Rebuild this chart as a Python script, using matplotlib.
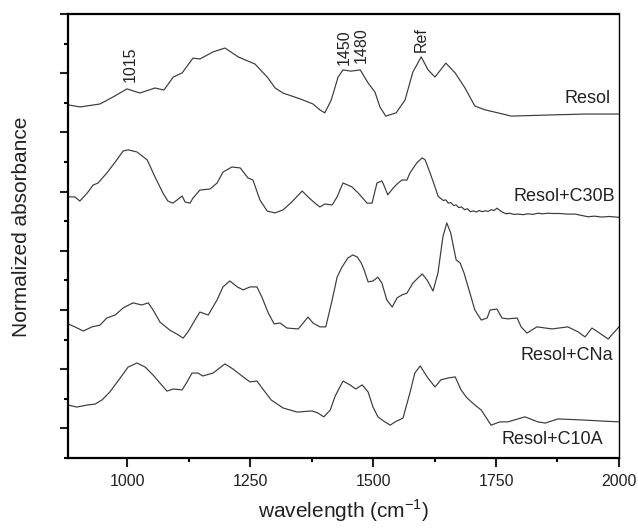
import matplotlib
matplotlib.use("Agg")
import matplotlib.pyplot as plt
from matplotlib.ticker import MultipleLocator

# stacked FTIR spectra (arbitrary units)
wn_resol = [880, 905, 945, 972, 1000, 1026, 1057, 1075, 1094, 1112, 1134, 1148, 1175, 1199,
            1226, 1260, 1285, 1301, 1317, 1352, 1378, 1392, 1402, 1415, 1429, 1439, 1455, 1474,
            1490, 1504, 1514, 1526, 1547, 1565, 1581, 1598, 1612, 1626, 1648, 1667, 1687, 1707,
            1728, 1754, 1781, 1862, 1931, 2000]
abs_resol = [11.93, 11.86, 11.96, 12.20, 12.47, 12.33, 12.50, 12.43, 12.87, 13.01, 13.51, 13.48,
             13.72, 13.85, 13.55, 13.31, 12.87, 12.50, 12.33, 12.13, 11.96, 11.76, 11.66, 12.09,
             12.87, 13.11, 13.07, 13.11, 12.67, 12.36, 11.86, 11.55, 11.66, 12.09, 13.04, 13.55,
             13.11, 12.87, 13.34, 13.01, 12.50, 11.89, 11.76, 11.66, 11.55, 11.59, 11.62, 11.62]

wn_c30b = [880, 894, 904, 919, 931, 941, 959, 976, 992, 1002, 1020, 1041, 1057, 1073, 1083, 1093,
           1102, 1112, 1118, 1128, 1134, 1148, 1169, 1183, 1195, 1213, 1230, 1246, 1256, 1270,
           1285, 1301, 1317, 1335, 1356, 1368, 1382, 1392, 1402, 1417, 1427, 1439, 1457, 1470,
           1488, 1498, 1508, 1518, 1522, 1530, 1541, 1551, 1559, 1569, 1575, 1589, 1600, 1606,
           1616, 1626, 1632, 1638, 1643, 1648, 1653, 1658, 1664, 1669, 1674, 1680, 1686, 1692,
           1698, 1704, 1710, 1716, 1722, 1728, 1734, 1740, 1746, 1752, 1758, 1764, 1770, 1778,
           1786, 1795, 1805, 1815, 1825, 1835, 1845, 1855, 1865, 1880, 1895, 1911, 1925, 1937,
           1950, 1965, 1980, 2000]
abs_c30b = [8.82, 8.82, 8.68, 8.95, 9.22, 9.29, 9.63, 10.00, 10.37, 10.41, 10.34, 10.07, 9.49,
            8.95, 8.68, 8.61, 8.72, 8.85, 8.65, 8.61, 8.78, 9.05, 9.09, 9.29, 9.66, 9.83, 9.80,
            9.46, 9.39, 8.72, 8.34, 8.28, 8.38, 8.65, 9.02, 8.82, 8.61, 8.48, 8.58, 8.55, 8.82,
            9.29, 9.16, 8.95, 8.61, 8.61, 9.29, 9.36, 9.22, 8.89, 9.12, 9.29, 9.39, 9.39, 9.63,
            9.97, 10.14, 10.07, 9.63, 9.16, 8.85, 8.76, 8.70, 8.72, 8.61, 8.63, 8.53, 8.55, 8.46,
            8.48, 8.39, 8.42, 8.32, 8.35, 8.31, 8.36, 8.32, 8.35, 8.33, 8.39, 8.36, 8.44, 8.36,
            8.30, 8.25, 8.27, 8.23, 8.24, 8.22, 8.25, 8.23, 8.27, 8.25, 8.27, 8.26, 8.26, 8.24,
            8.24, 8.19, 8.15, 8.17, 8.14, 8.16, 8.13]

wn_cna = [880, 894, 911, 929, 945, 959, 976, 992, 1012, 1030, 1043, 1053, 1067, 1087, 1104, 1114,
          1124, 1138, 1148, 1165, 1183, 1195, 1209, 1224, 1236, 1250, 1264, 1274, 1287, 1299,
          1311, 1325, 1348, 1358, 1368, 1378, 1392, 1404, 1417, 1427, 1437, 1449, 1459, 1468,
          1476, 1482, 1490, 1500, 1510, 1518, 1528, 1539, 1549, 1559, 1569, 1581, 1600, 1610,
          1622, 1632, 1642, 1650, 1658, 1669, 1677, 1685, 1697, 1707, 1720, 1732, 1738, 1752,
          1762, 1774, 1793, 1801, 1813, 1833, 1864, 1896, 1917, 1931, 1945, 1957, 1978, 2000]
abs_cna = [4.53, 4.43, 4.29, 4.43, 4.49, 4.73, 4.83, 5.07, 5.24, 5.17, 5.24, 5.00, 4.59, 4.32,
           4.16, 4.05, 4.26, 4.66, 4.93, 4.83, 5.34, 5.78, 5.98, 5.78, 5.68, 5.78, 5.78, 5.44,
           4.90, 4.53, 4.56, 4.39, 4.36, 4.56, 4.76, 4.56, 4.43, 4.43, 5.34, 6.11, 6.45, 6.76,
           6.86, 6.79, 6.59, 6.35, 5.95, 5.98, 6.11, 5.91, 5.34, 5.10, 5.41, 5.51, 5.57, 5.91,
           6.22, 6.01, 5.64, 6.25, 7.47, 7.94, 7.60, 6.69, 6.59, 6.25, 5.57, 5.00, 4.66, 4.73,
           5.00, 5.03, 4.73, 4.70, 4.73, 4.43, 4.22, 4.43, 4.36, 4.43, 4.26, 4.09, 4.39, 4.26,
           4.02, 4.43]

wn_c10a = [880, 898, 919, 935, 949, 965, 986, 1002, 1020, 1037, 1053, 1067, 1081, 1094, 1112,
           1122, 1132, 1144, 1154, 1175, 1199, 1215, 1236, 1250, 1264, 1276, 1293, 1317, 1346,
           1376, 1388, 1400, 1413, 1423, 1439, 1453, 1465, 1478, 1490, 1500, 1510, 1524, 1535,
           1545, 1561, 1575, 1585, 1596, 1610, 1626, 1638, 1652, 1667, 1679, 1691, 1707, 1720,
           1740, 1758, 1774, 1809, 1835, 1850, 1876, 1931, 1963, 2000]
abs_c10a = [1.79, 1.72, 1.79, 1.82, 1.96, 2.23, 2.70, 3.07, 3.21, 3.07, 2.80, 2.53, 2.26, 2.33,
            2.30, 2.57, 2.87, 2.87, 2.77, 2.87, 3.18, 3.01, 2.74, 2.57, 2.60, 2.33, 1.96, 1.69,
            1.55, 1.59, 1.52, 1.39, 1.62, 2.09, 2.60, 2.47, 2.33, 2.47, 2.23, 1.72, 1.39, 1.22,
            1.11, 1.22, 1.35, 2.20, 2.87, 3.11, 2.74, 2.40, 2.64, 2.70, 2.74, 2.30, 2.03, 1.79,
            1.62, 1.11, 1.22, 1.22, 1.39, 1.22, 1.18, 1.32, 1.28, 1.25, 1.22]

spectra = [(wn_resol, abs_resol), (wn_c30b, abs_c30b), (wn_cna, abs_cna), (wn_c10a, abs_c10a)]

sample_names = ["Resol", "Resol+C30B", "Resol+CNa", "Resol+C10A"]
name_x = [1982, 1992, 1988, 1967]
name_y = [12.13, 8.82, 3.45, 0.61]

band_labels = ["1015", "1450", "1480", "Ref"]
band_x = [1006, 1441, 1476, 1598]
band_y = [12.70, 13.28, 13.34, 13.72]

plt.rcParams["font.family"] = ["Liberation Sans", "DejaVu Sans"]
plt.rcParams["mathtext.fontset"] = "custom"
plt.rcParams["mathtext.rm"] = "Liberation Sans"

fig = plt.figure(figsize=(6.38, 5.28), dpi=100)
ax = fig.add_axes([0.1066, 0.1326, 0.8636, 0.8409])

for wn, a in spectra:
    ax.plot(wn, a, color="#3a3a3a", lw=0.85)

for name, x, y in zip(sample_names, name_x, name_y):
    ax.text(x, y, name, ha="right", va="center", fontsize=13, color="#222222")

for lab, x, y in zip(band_labels, band_x, band_y):
    ax.text(x, y, lab, rotation=90, ha="center", va="bottom", fontsize=11.5, color="#222222")

ax.set_xlim(880, 2000)
ax.set_ylim(0, 15)
ax.xaxis.set_major_locator(MultipleLocator(250))
ax.xaxis.set_minor_locator(MultipleLocator(125))
ax.set_yticks(range(1, 16, 2))
ax.set_yticks(range(0, 15, 2), minor=True)
ax.set_yticklabels([])

ax.tick_params(axis="both", which="major", direction="out", length=6, width=1.5,
               labelsize=11.5, pad=5, colors="#222222")
ax.tick_params(axis="both", which="minor", direction="out", length=3, width=1.5)
ax.tick_params(axis="x", which="major", length=6.5)

for side in ["left", "top", "bottom"]:
    ax.spines[side].set_linewidth(1.6)
ax.spines["right"].set_linewidth(1.0)

ax.set_xlabel("wavelength (cm$^{\\mathrm{-1}}$)", fontsize=15, labelpad=6, color="#222222")
ax.set_ylabel("Normalized absorbance", fontsize=15, color="#222222")
ax.yaxis.set_label_coords(-0.068, 0.52)

fig.savefig("out.png", dpi=100)
